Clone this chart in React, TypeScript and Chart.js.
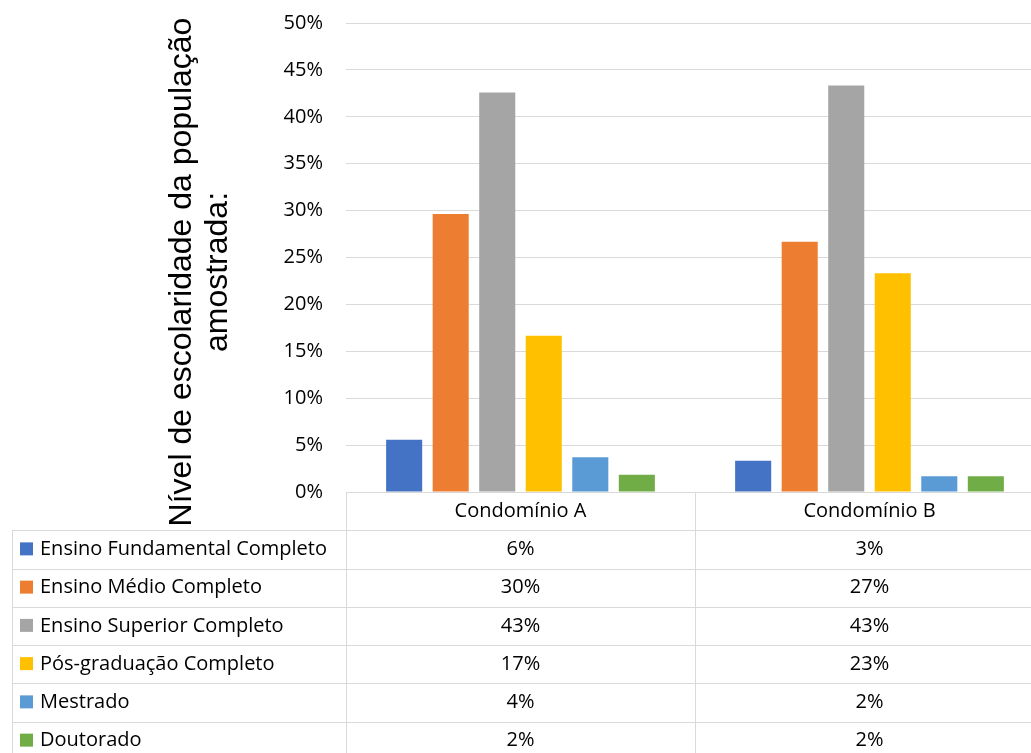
import { useEffect, useRef } from "react";
import { Chart, registerables } from "chart.js";

Chart.register(...registerables);

const categories = ["Condomínio A", "Condomínio B"];
const seriesNames = [
  "Ensino Fundamental Completo",
  "Ensino Médio Completo",
  "Ensino Superior Completo",
  "Pós-graduação Completo",
  "Mestrado",
  "Doutorado",
];
const seriesColors = ["#4472C4", "#ED7D31", "#A5A5A5", "#FFC000", "#5B9BD5", "#70AD47"];

const fundamental = [5.56, 3.33];
const medio = [29.63, 26.67];
const superior = [42.59, 43.33];
const posGraduacao = [16.67, 23.33];
const mestrado = [3.7, 1.67];
const doutorado = [1.85, 1.67];
const seriesValues = [fundamental, medio, superior, posGraduacao, mestrado, doutorado];

const yTicks = [0, 5, 10, 15, 20, 25, 30, 35, 40, 45, 50];
const titleLines = ["Nível de escolaridade da população", "amostrada:"];

const W = 1050;
const H = 765;
const PAD_TOP = 23;
const PLOT_BOTTOM = 492;
const PLOT_LEFT = 346;
const PLOT_RIGHT = 1044;
const ROW_H = 38.25;
const TABLE_LEFT = 12;
const TEXT_FONT = "20px 'Open Sans'";
const GRID = "#d9d9d9";

const tablePlugin = {
  id: "dataTable",
  afterDraw(chart: any) {
    const ctx = chart.ctx as CanvasRenderingContext2D;
    const xs = chart.scales.x;
    const { left, right, bottom } = chart.chartArea;
    const top = bottom;
    const n = seriesNames.length;
    const tableBottom = top + ROW_H * (n + 1);
    const px = (v: number) => Math.round(v) + 0.5;

    ctx.save();
    ctx.strokeStyle = GRID;
    ctx.lineWidth = 1;
    ctx.beginPath();
    ctx.moveTo(left, px(top));
    ctx.lineTo(right, px(top));
    for (let i = 1; i <= n + 1; i++) {
      const y = px(top + ROW_H * i);
      ctx.moveTo(TABLE_LEFT, y);
      ctx.lineTo(right, y);
    }
    ctx.moveTo(px(left), top);
    ctx.lineTo(px(left), tableBottom);
    ctx.moveTo(px(TABLE_LEFT), top + ROW_H);
    ctx.lineTo(px(TABLE_LEFT), tableBottom);
    for (let c = 0; c < categories.length; c++) {
      const xb = c < categories.length - 1
        ? (xs.getPixelForValue(c) + xs.getPixelForValue(c + 1)) / 2
        : right;
      ctx.moveTo(px(xb), top);
      ctx.lineTo(px(xb), tableBottom);
    }
    ctx.stroke();

    ctx.fillStyle = "#000";
    ctx.font = TEXT_FONT;
    ctx.textBaseline = "middle";
    ctx.textAlign = "center";
    categories.forEach((cat, c) => {
      const cx = xs.getPixelForValue(c);
      ctx.fillText(cat, cx, top + ROW_H / 2);
      seriesValues.forEach((vals, s) => {
        ctx.fillText(Math.round(vals[c]) + "%", cx, top + ROW_H * (s + 1) + ROW_H / 2);
      });
    });
    ctx.textAlign = "left";
    seriesNames.forEach((name, s) => {
      const cy = top + ROW_H * (s + 1) + ROW_H / 2;
      ctx.fillStyle = seriesColors[s];
      ctx.fillRect(20, cy - 7, 13, 13);
      ctx.fillStyle = "#000";
      ctx.fillText(name, 40, cy);
    });

    // axis title
    ctx.save();
    ctx.translate(0, 272);
    ctx.rotate(-Math.PI / 2);
    ctx.font = "32px 'Liberation Sans'";
    ctx.textAlign = "center";
    ctx.textBaseline = "alphabetic";
    ctx.fillText(titleLines[0], 0, 191);
    ctx.fillText(titleLines[1], 0, 227);
    ctx.restore();
    ctx.restore();
  },
};

export default function App() {
  const ref = useRef<HTMLCanvasElement | null>(null);
  useEffect(() => {
    if (!ref.current) return;
    const chart = new Chart(ref.current, {
      type: "bar",
      data: {
        labels: categories,
        datasets: seriesNames.map((name, i) => ({
          label: name,
          data: seriesValues[i],
          backgroundColor: seriesColors[i],
          borderWidth: 0,
          categoryPercentage: 0.8,
          barPercentage: 0.775,
        })),
      },
      options: {
        animation: false,
        responsive: false,
        devicePixelRatio: 1,
        layout: {
          padding: { left: 0, top: PAD_TOP, right: W - PLOT_RIGHT, bottom: H - PLOT_BOTTOM },
        },
        plugins: { legend: { display: false }, tooltip: { enabled: false }, title: { display: false } },
        scales: {
          x: { display: false },
          y: {
            min: 0,
            max: 50,
            afterFit: (scale: any) => {
              scale.width = PLOT_LEFT;
            },
            afterBuildTicks: (scale: any) => {
              scale.ticks = yTicks.map((v) => ({ value: v }));
            },
            border: { display: false },
            grid: { color: GRID, lineWidth: 1, drawTicks: true, tickLength: 20, tickColor: "rgba(0,0,0,0)" },
            ticks: {
              padding: 3,
              color: "#000",
              font: { family: "'Open Sans'", size: 20 },
              callback: (v: any) => v + "%",
            },
          },
        },
      },
      plugins: [tablePlugin],
    });
    return () => chart.destroy();
  }, []);
  return (
    <div style={{ position: "fixed", left: 0, top: 0, width: 1031, height: 753, overflow: "hidden", background: "#fff" }}>
      <canvas ref={ref} width={W} height={H} style={{ width: W, height: H, display: "block" }} />
    </div>
  );
}
